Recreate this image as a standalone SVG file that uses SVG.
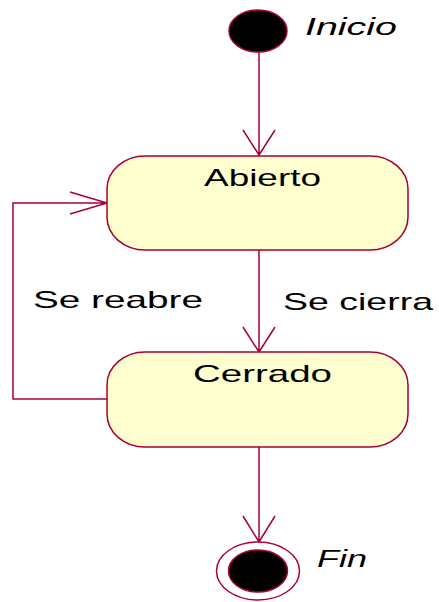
<svg xmlns="http://www.w3.org/2000/svg" width="439" height="602" viewBox="0 0 439 602">
<defs>
<style>
.st{fill:#FEFECE;stroke:#A80036;stroke-width:1.5}
.ln{fill:none;stroke:#A80036;stroke-width:1.5}
.t{font-family:"Liberation Sans",Arial,sans-serif;font-size:24px;fill:#000}
.i{font-style:italic}
</style>
</defs>
<rect width="439" height="602" fill="#fff"/>
<g id="connectors">
<path class="ln" d="M259,52 V155 M243,130 L259,155 L275,130"/>
<path class="ln" d="M259,250 V352 M243,327 L259,352 L275,327"/>
<path class="ln" d="M259,447 V542 M243,516 L259,542 L275,516"/>
<path class="ln" d="M107,399 H13 V203 H107 M70,192 L107,203 L70,214"/>
<text class="t" x="283" y="310" textLength="150" lengthAdjust="spacingAndGlyphs">Se cierra</text>
<text class="t" x="33" y="308" textLength="170" lengthAdjust="spacingAndGlyphs">Se reabre</text>
</g>
<g id="inicio">
<ellipse cx="258" cy="31" rx="29" ry="21" fill="#000" stroke="#A80036" stroke-width="1.5"/>
<text class="t i" x="305" y="35" textLength="92" lengthAdjust="spacingAndGlyphs">Inicio</text>
</g>
<g id="abierto">
<rect class="st" x="107" y="156" width="301" height="94" rx="38" ry="33"/>
<text class="t" x="204" y="186" textLength="117" lengthAdjust="spacingAndGlyphs">Abierto</text>
</g>
<g id="cerrado">
<rect class="st" x="107" y="352" width="301" height="95" rx="38" ry="33"/>
<text class="t" x="193" y="382" textLength="139" lengthAdjust="spacingAndGlyphs">Cerrado</text>
</g>
<g id="fin">
<ellipse cx="258" cy="571" rx="41.5" ry="29" fill="#fff" stroke="#A80036" stroke-width="1.5"/>
<ellipse cx="258" cy="571" rx="29.5" ry="21" fill="#000" stroke="#A80036" stroke-width="1.5"/>
<text class="t i" x="317" y="567" textLength="50" lengthAdjust="spacingAndGlyphs">Fin</text>
</g>
</svg>
